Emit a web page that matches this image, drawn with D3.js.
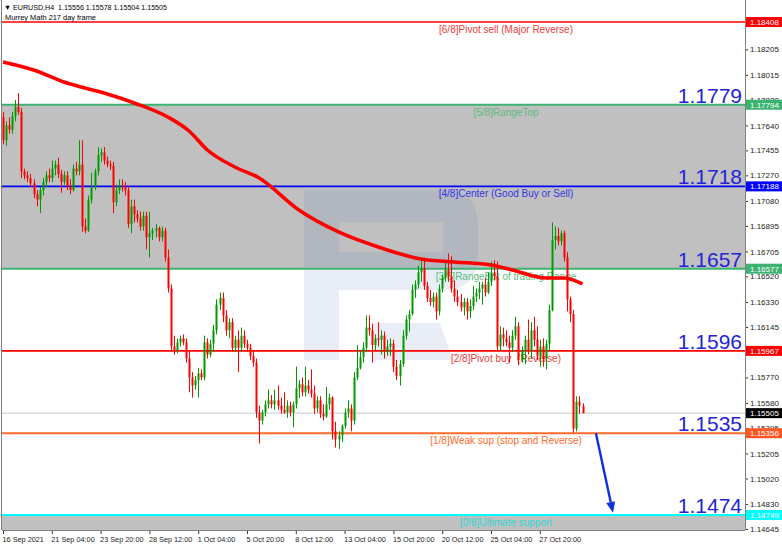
<!DOCTYPE html>
<html><head><meta charset="utf-8">
<script src="https://cdn.jsdelivr.net/npm/d3@7"></script>
<style>
html,body{margin:0;padding:0;background:#fff;}
svg{display:block;font-family:"Liberation Sans",Arial,sans-serif;}
</style></head><body>
<svg id="c" width="782" height="546"></svg>
<script>
const symbolTitle = "\u25BC EURUSD,H4  1.15556 1.15578 1.15504 1.15505";
const indicatorTitle = "Murrey Math 217 day frame";

// H4 candles [open, high, low, close]
const candles = [
[1.1770,1.1774,1.1750,1.1753],[1.1753,1.1767,1.1749,1.1764],[1.1764,1.1770,1.1758,1.1761],[1.1761,1.1774,1.1758,1.1771],
[1.1771,1.1783,1.1767,1.1778],[1.1778,1.1788,1.1772,1.1774],[1.1774,1.1777,1.1725,1.1730],[1.1730,1.1732,1.1724,1.1727],
[1.1727,1.1730,1.1722,1.1725],[1.1725,1.1728,1.1718,1.1721],[1.1721,1.1724,1.1710,1.1713],[1.1713,1.1716,1.1704,1.1709],
[1.1709,1.1718,1.1699,1.1716],[1.1716,1.1725,1.1712,1.1722],[1.1722,1.1730,1.1718,1.1727],[1.1727,1.1732,1.1722,1.1725],
[1.1725,1.1738,1.1722,1.1732],[1.1732,1.1738,1.1727,1.1735],[1.1735,1.1740,1.1725,1.1728],[1.1728,1.1731,1.1714,1.1722],
[1.1722,1.1730,1.1720,1.1727],[1.1727,1.1730,1.1716,1.1719],[1.1719,1.1724,1.1713,1.1716],[1.1716,1.1735,1.1715,1.1732],
[1.1732,1.1737,1.1727,1.1730],[1.1730,1.1753,1.1727,1.1735],[1.1735,1.1753,1.1685,1.1689],[1.1689,1.1695,1.1684,1.1686],
[1.1686,1.1712,1.1685,1.1709],[1.1709,1.1729,1.1706,1.1718],[1.1718,1.1732,1.1716,1.1730],[1.1730,1.1748,1.1727,1.1742],
[1.1742,1.1747,1.1737,1.1744],[1.1744,1.1748,1.1735,1.1738],[1.1738,1.1741,1.1733,1.1735],[1.1735,1.1738,1.1731,1.1734],
[1.1734,1.1737,1.1699,1.1707],[1.1707,1.1720,1.1704,1.1716],[1.1716,1.1724,1.1713,1.1719],[1.1719,1.1724,1.1715,1.1718],
[1.1718,1.1722,1.1712,1.1716],[1.1716,1.1719,1.1688,1.1691],[1.1691,1.1709,1.1684,1.1704],[1.1704,1.1709,1.1692,1.1698],
[1.1698,1.1701,1.1692,1.1695],[1.1695,1.1700,1.1686,1.1689],[1.1689,1.1700,1.1686,1.1697],[1.1697,1.1700,1.1672,1.1681],
[1.1681,1.1700,1.1666,1.1684],[1.1684,1.1688,1.1679,1.1686],[1.1686,1.1691,1.1681,1.1688],[1.1688,1.1689,1.1678,1.1681],
[1.1681,1.1689,1.1678,1.1686],[1.1686,1.1688,1.1663,1.1666],[1.1666,1.1672,1.1640,1.1643],[1.1643,1.1646,1.1597,1.1600],
[1.1600,1.1608,1.1594,1.1597],[1.1597,1.1606,1.1595,1.1603],[1.1603,1.1608,1.1600,1.1606],[1.1606,1.1609,1.1601,1.1603],
[1.1603,1.1606,1.1588,1.1591],[1.1591,1.1597,1.1566,1.1577],[1.1577,1.1581,1.1562,1.1571],[1.1571,1.1578,1.1568,1.1575],
[1.1575,1.1584,1.1562,1.1580],[1.1580,1.1583,1.1575,1.1577],[1.1577,1.1608,1.1575,1.1603],[1.1603,1.1606,1.1591,1.1594],
[1.1594,1.1605,1.1592,1.1602],[1.1602,1.1616,1.1596,1.1612],[1.1612,1.1635,1.1609,1.1631],[1.1631,1.1640,1.1627,1.1636],
[1.1636,1.1640,1.1618,1.1623],[1.1623,1.1627,1.1608,1.1612],[1.1612,1.1621,1.1606,1.1618],[1.1618,1.1621,1.1596,1.1599],
[1.1599,1.1608,1.1596,1.1605],[1.1605,1.1612,1.1581,1.1599],[1.1599,1.1614,1.1596,1.1608],[1.1608,1.1612,1.1599,1.1602],
[1.1602,1.1605,1.1596,1.1599],[1.1599,1.1602,1.1590,1.1593],[1.1593,1.1597,1.1585,1.1588],[1.1588,1.1591,1.1547,1.1551],
[1.1551,1.1556,1.1528,1.1545],[1.1545,1.1553,1.1542,1.1551],[1.1551,1.1560,1.1548,1.1557],[1.1557,1.1568,1.1554,1.1560],
[1.1560,1.1564,1.1554,1.1557],[1.1557,1.1568,1.1553,1.1560],[1.1560,1.1571,1.1553,1.1556],[1.1556,1.1562,1.1550,1.1553],
[1.1553,1.1566,1.1550,1.1551],[1.1551,1.1560,1.1547,1.1556],[1.1556,1.1559,1.1548,1.1551],[1.1551,1.1559,1.1540,1.1557],
[1.1557,1.1585,1.1554,1.1569],[1.1569,1.1575,1.1562,1.1572],[1.1572,1.1577,1.1563,1.1566],[1.1566,1.1585,1.1563,1.1571],
[1.1571,1.1575,1.1565,1.1568],[1.1568,1.1583,1.1562,1.1565],[1.1565,1.1571,1.1550,1.1554],[1.1554,1.1563,1.1551,1.1560],
[1.1560,1.1563,1.1547,1.1550],[1.1550,1.1557,1.1545,1.1548],[1.1548,1.1570,1.1547,1.1557],[1.1557,1.1565,1.1553,1.1562],
[1.1562,1.1563,1.1531,1.1537],[1.1537,1.1544,1.1525,1.1531],[1.1531,1.1537,1.1524,1.1534],[1.1534,1.1542,1.1529,1.1541],
[1.1541,1.1554,1.1539,1.1551],[1.1551,1.1560,1.1547,1.1554],[1.1554,1.1557,1.1537,1.1545],[1.1545,1.1581,1.1542,1.1577],
[1.1577,1.1601,1.1575,1.1584],[1.1584,1.1597,1.1583,1.1592],[1.1592,1.1603,1.1588,1.1599],[1.1599,1.1623,1.1596,1.1614],
[1.1614,1.1623,1.1608,1.1612],[1.1612,1.1617,1.1588,1.1601],[1.1601,1.1609,1.1597,1.1606],[1.1606,1.1618,1.1600,1.1605],
[1.1605,1.1612,1.1594,1.1608],[1.1608,1.1611,1.1591,1.1596],[1.1596,1.1605,1.1593,1.1600],[1.1600,1.1606,1.1593,1.1602],
[1.1602,1.1605,1.1581,1.1585],[1.1585,1.1590,1.1575,1.1578],[1.1578,1.1590,1.1571,1.1587],[1.1587,1.1612,1.1585,1.1608],
[1.1608,1.1623,1.1605,1.1620],[1.1620,1.1627,1.1611,1.1624],[1.1624,1.1646,1.1623,1.1642],[1.1642,1.1649,1.1636,1.1646],
[1.1646,1.1660,1.1643,1.1655],[1.1655,1.1666,1.1648,1.1658],[1.1658,1.1666,1.1642,1.1645],[1.1645,1.1648,1.1633,1.1636],
[1.1636,1.1642,1.1630,1.1633],[1.1633,1.1640,1.1629,1.1637],[1.1637,1.1640,1.1620,1.1626],[1.1626,1.1646,1.1623,1.1643],
[1.1643,1.1653,1.1640,1.1651],[1.1651,1.1664,1.1648,1.1657],[1.1657,1.1669,1.1648,1.1652],[1.1652,1.1667,1.1640,1.1643],
[1.1643,1.1649,1.1633,1.1637],[1.1637,1.1642,1.1630,1.1633],[1.1633,1.1639,1.1626,1.1629],[1.1629,1.1636,1.1623,1.1633],
[1.1633,1.1636,1.1620,1.1626],[1.1626,1.1635,1.1621,1.1630],[1.1630,1.1645,1.1627,1.1637],[1.1637,1.1643,1.1633,1.1640],
[1.1640,1.1648,1.1635,1.1643],[1.1643,1.1648,1.1631,1.1646],[1.1646,1.1651,1.1637,1.1640],[1.1640,1.1655,1.1639,1.1648],
[1.1648,1.1663,1.1645,1.1655],[1.1655,1.1664,1.1649,1.1652],[1.1652,1.1663,1.1596,1.1600],[1.1600,1.1615,1.1597,1.1609],
[1.1609,1.1614,1.1600,1.1606],[1.1606,1.1612,1.1600,1.1603],[1.1603,1.1608,1.1588,1.1599],[1.1599,1.1612,1.1596,1.1608],
[1.1608,1.1622,1.1605,1.1615],[1.1615,1.1618,1.1586,1.1590],[1.1590,1.1600,1.1588,1.1597],[1.1597,1.1608,1.1587,1.1605],
[1.1605,1.1620,1.1594,1.1597],[1.1597,1.1618,1.1591,1.1612],[1.1612,1.1622,1.1600,1.1605],[1.1605,1.1615,1.1590,1.1593],
[1.1593,1.1605,1.1585,1.1600],[1.1600,1.1606,1.1585,1.1591],[1.1591,1.1605,1.1583,1.1602],[1.1602,1.1631,1.1597,1.1627],
[1.1627,1.1692,1.1626,1.1679],[1.1679,1.1689,1.1672,1.1682],[1.1682,1.1688,1.1675,1.1678],[1.1678,1.1686,1.1675,1.1684],
[1.1684,1.1686,1.1663,1.1666],[1.1666,1.1670,1.1626,1.1635],[1.1635,1.1637,1.1618,1.1624],[1.1624,1.1627,1.1536,1.1539],
[1.1539,1.1563,1.1537,1.1559],[1.1559,1.1563,1.1550,1.1556],[1.15556,1.15578,1.15504,1.15505]
];

// moving average (red thick line), sampled at bar indexes
const maIndex = [0,10,21,32,43,54,61,67,76,84,97,110,124,137,148,160,167,178,184,190];
const maValue = [1.18111,1.18052,1.17955,1.17888,1.17807,1.17703,1.17599,1.17458,1.17332,1.17250,
                 1.17013,1.16850,1.16731,1.16649,1.16627,1.16605,1.16568,1.16508,1.16508,1.16464];

// Murrey Math levels
const levelValues = [1.18408,1.17794,1.17188,1.16577,1.15967,1.15356,1.14749];
const levelNames = ["[6/8]Pivot sell (Major Reverse)","[5/8]RangeTop","[4/8]Center (Good Buy or Sell)",
  "[3/8]RangeBot of trading Range","[2/8]Pivot buy  (Reverse)","[1/8]Weak sup (stop and Reverse)","[0/8]Ultimate support"];
const levelShort = ["","1.1779","1.1718","1.1657","1.1596","1.1535","1.1474"];
const levelLineColors = ["#ff0000","#3cb371","#0000ff","#3cb371","#ff0000","#ff6a2a","#00ffff"];
const levelTextColors = ["#ef3b3b","#5dbb7d","#3535e6","#5dbb7d","#ef3b3b","#ff6a2a","#33d6d6"];
const levelBoxColors  = ["#ff0000","#3cb371","#0000ff","#3cb371","#ff0000","#ff5722","#00ffff"];
const currentPrice = 1.15505;

const priceTicks = [1.18395,1.18205,1.18015,1.17830,1.17640,1.17455,1.17270,1.17080,1.16895,1.16705,1.16520,
  1.16330,1.16145,1.15960,1.15770,1.15580,1.15395,1.15205,1.15020,1.14830,1.14645];
const timeTickIndex = [0,16,32,48,64,80,96,112,128,144,160,176];
const timeTickLabels = ["16 Sep 2021","21 Sep 04:00","23 Sep 20:00","28 Sep 12:00","1 Oct 04:00","5 Oct 20:00",
  "8 Oct 12:00","13 Oct 04:00","15 Oct 20:00","20 Oct 12:00","25 Oct 04:00","27 Oct 20:00"];

// forecast arrow (bar index, price)
const arrowFrom = [194.4, 1.15356];
const arrowTo = [200.0, 1.14765];

// ---------------------------------------------------------------
const svg = d3.select("#c");
const P = {l:2, r:745, t:0, b:530};
const x = d3.scaleLinear().domain([0,190]).range([3,582.5]);
const y = d3.scaleLinear().domain([levelValues[6], levelValues[0]]).range([515,22]);

svg.append("rect").attr("width",782).attr("height",546).attr("fill","#fff");
svg.append("defs").append("clipPath").attr("id","pc").append("rect")
  .attr("x",P.l).attr("y",P.t).attr("width",P.r-P.l).attr("height",P.b-P.t);
const g = svg.append("g").attr("clip-path","url(#pc)");

// gray zones
g.append("rect").attr("x",P.l).attr("width",P.r-P.l)
  .attr("y",y(levelValues[1])).attr("height",y(levelValues[3])-y(levelValues[1])).attr("fill","#c0c0c0");
g.append("rect").attr("x",P.l).attr("width",P.r-P.l)
  .attr("y",y(levelValues[6])).attr("height",P.b-y(levelValues[6])).attr("fill","#c0c0c0");

// watermark
const wm = g.append("g").attr("fill","#5a7ab4").attr("opacity",0.13);
wm.append("rect").attr("x",304).attr("y",190).attr("width",35).attr("height",170);
wm.append("path").attr("fill-rule","evenodd")
  .attr("d","M339,190 H443 Q478,190 478,225 V255 Q478,290 443,290 H339 Z M339,222 H443 V252 H339 Z");
wm.append("path").attr("d","M374,323 H440 L453,360 H374 Z");

// current price line
g.append("line").attr("x1",P.l).attr("x2",P.r).attr("y1",y(currentPrice)).attr("y2",y(currentPrice))
  .attr("stroke","#c8c8c8").attr("stroke-width",1);

// level lines + names
levelValues.forEach((v,i)=>{
  g.append("line").attr("x1",P.l).attr("x2",P.r).attr("y1",y(v)).attr("y2",y(v))
    .attr("stroke",levelLineColors[i]).attr("stroke-width",(i%2===1||i===6)?2:1.6);
  g.append("text").attr("x",506).attr("y",y(v)+11).attr("text-anchor","middle")
    .attr("font-size",10).attr("fill",levelTextColors[i]).style("white-space","pre").text(levelNames[i]);
});

// candles
const cg = g.append("g");
candles.forEach((c,i)=>{
  const [o,h,l,cl] = c;
  const up = cl>=o;
  const col = up ? "#009a00" : "#ff0000";
  const cx = Math.round(x(i));
  cg.append("line").attr("x1",cx+0.5).attr("x2",cx+0.5).attr("y1",y(h)).attr("y2",y(l))
    .attr("stroke",col).attr("stroke-width",1);
  const top = y(Math.max(o,cl)), bot = y(Math.min(o,cl));
  cg.append("rect").attr("x",cx-0.5).attr("width",2).attr("y",top).attr("height",Math.max(1,bot-top)).attr("fill",col);
});

// moving average
const maLine = d3.line().x((d,i)=>x(maIndex[i])).y(d=>y(d)).curve(d3.curveMonotoneX);
g.append("path").attr("d",maLine(maValue)).attr("fill","none").attr("stroke","#ff0000").attr("stroke-width",3.6);

// big level numbers
levelValues.forEach((v,i)=>{
  if(!levelShort[i]) return;
  g.append("text").attr("x",742).attr("y",y(v)-2).attr("text-anchor","end")
    .attr("font-size",21).attr("fill","#2424d6").text(levelShort[i]);
});

// arrow
const ax1=x(arrowFrom[0]), ay1=y(arrowFrom[1]), ax2=x(arrowTo[0]), ay2=y(arrowTo[1]);
const ang = Math.atan2(ay2-ay1, ax2-ax1);
const hl=11, hw=4.5;
const bx = ax2-hl*Math.cos(ang), by = ay2-hl*Math.sin(ang);
g.append("line").attr("x1",ax1).attr("y1",ay1).attr("x2",bx).attr("y2",by)
  .attr("stroke","#1030e0").attr("stroke-width",2.4);
g.append("path").attr("fill","#1030e0")
  .attr("d",`M${ax2},${ay2} L${bx+hw*Math.sin(ang)},${by-hw*Math.cos(ang)} L${bx-hw*Math.sin(ang)},${by+hw*Math.cos(ang)} Z`);

// frame
svg.append("line").attr("x1",1.5).attr("x2",1.5).attr("y1",0).attr("y2",P.b).attr("stroke","#808080");

// bottom axis
const xa = svg.append("g").attr("transform",`translate(0,${P.b})`)
  .call(d3.axisBottom(x).tickValues(timeTickIndex).tickFormat((d,i)=>timeTickLabels[i]).tickSize(4).tickSizeOuter(0));
xa.select(".domain").remove();
xa.append("line").attr("x1",P.l).attr("x2",P.r).attr("y1",0.5).attr("y2",0.5).attr("stroke","#808080");
xa.selectAll(".tick line").attr("stroke","#333");
xa.selectAll(".tick text").attr("text-anchor","start").attr("dx","-1").attr("y",7)
  .attr("font-family","Liberation Sans, Arial, sans-serif").attr("font-size",7.3).attr("fill","#222");

// right axis
const ya = svg.append("g").attr("transform",`translate(${P.r},0)`)
  .call(d3.axisRight(y).tickValues(priceTicks).tickFormat(d3.format(".5f")).tickSize(3).tickSizeOuter(0));
ya.select(".domain").remove();
ya.append("line").attr("x1",0.5).attr("x2",0.5).attr("y1",0).attr("y2",P.b).attr("stroke","#808080");
ya.selectAll(".tick line").attr("stroke","#333");
ya.selectAll(".tick text").attr("x",5).attr("font-family","Liberation Sans, Arial, sans-serif")
  .attr("font-size",8).attr("fill","#222");

// highlighted price boxes
const boxVals = levelValues.concat([currentPrice]);
const boxCols = levelBoxColors.concat(["#000000"]);
boxVals.forEach((v,i)=>{
  svg.append("rect").attr("x",P.r+1).attr("y",y(v)-5).attr("width",36).attr("height",10).attr("fill",boxCols[i]);
  svg.append("text").attr("x",P.r+5).attr("y",y(v)+3).attr("font-size",8).attr("fill","#fff").text(d3.format(".5f")(v));
});

// titles
svg.append("text").attr("x",4).attr("y",10).attr("font-size",7.6).attr("fill","#000").style("white-space","pre")
  .attr("textLength",163).attr("lengthAdjust","spacingAndGlyphs").text(symbolTitle);
svg.append("text").attr("x",5).attr("y",20).attr("font-size",7.6).attr("fill","#000")
  .attr("textLength",91).attr("lengthAdjust","spacingAndGlyphs").text(indicatorTitle);
</script>
</body></html>
